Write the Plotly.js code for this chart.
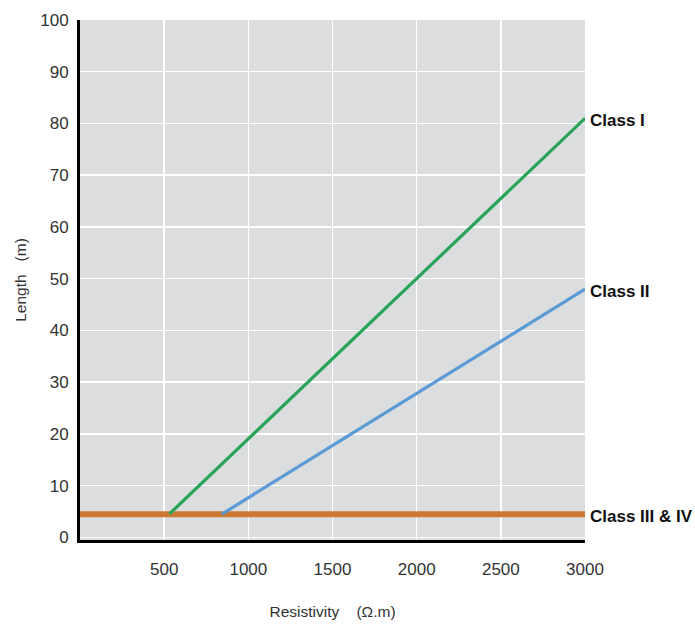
<!DOCTYPE html>
<html>
<head>
<meta charset="utf-8">
<script src="https://cdn.plot.ly/plotly-3.0.1.min.js"></script>
<style>html,body{margin:0;padding:0;background:#fff;}#chart{width:695px;height:626px;}</style>
</head>
<body>
<div id="chart"></div>
<script>
const classIX = [530, 3000];
const classIY = [4.5, 81];
const classIIX = [843, 3000];
const classIIY = [4.5, 48];
const classIIIX = [0, 3000];
const classIIIY = [4.5, 4.5];
const xTicks = [500, 1000, 1500, 2000, 2500, 3000];
const yTicks = [0, 10, 20, 30, 40, 50, 60, 70, 80, 90, 100];
const labels = ["Class I", "Class II", "Class III &amp; IV"];
const labelY = [81, 48, 4.5];

const font = "'Liberation Sans', Arial, sans-serif";

const traces = [
  {x: classIIIX, y: classIIIY, mode: 'lines', line: {color: '#cc7a33', width: 6}},
  {x: classIX, y: classIY, mode: 'lines', line: {color: '#27a457', width: 3.2}},
  {x: classIIX, y: classIIY, mode: 'lines', line: {color: '#5b9bd5', width: 3.2}}
];

const annotations = labels.map((t, i) => ({
  x: 3000, y: labelY[i], xref: 'x', yref: 'y', text: '<b>' + t + '</b>',
  showarrow: false, xanchor: 'left', xshift: 3, yshift: -2,
  font: {family: font, size: 17, color: '#111'}
}));

const layout = {
  width: 695, height: 626,
  margin: {l: 80, r: 110, t: 20, b: 86},
  paper_bgcolor: '#ffffff',
  plot_bgcolor: '#dcdddf',
  showlegend: false,
  xaxis: {
    range: [0, 3000], tickvals: xTicks, ticktext: xTicks.map(String),
    showgrid: true, gridcolor: '#ffffff', gridwidth: 1.5,
    zeroline: false, showline: true, linecolor: '#000', linewidth: 3,
    ticks: 'outside', ticklen: 12, tickcolor: 'rgba(0,0,0,0)',
    tickfont: {family: font, size: 17, color: '#333'},
    title: {text: 'Resistivity&nbsp;&nbsp;&nbsp;&nbsp;(Ω.m)', standoff: 28, font: {family: font, size: 15.5, color: '#333'}},
    fixedrange: true
  },
  yaxis: {
    range: [-0.5, 100], tickvals: yTicks, ticktext: yTicks.map(String),
    showgrid: true, gridcolor: '#ffffff', gridwidth: 1.5,
    zeroline: false, showline: true, linecolor: '#000', linewidth: 3,
    ticks: 'outside', ticklen: 5, tickcolor: 'rgba(0,0,0,0)',
    tickfont: {family: font, size: 17, color: '#333'},
    title: {text: 'Length&nbsp;&nbsp;&nbsp;(m)', standoff: 10, font: {family: font, size: 15.5, color: '#333'}},
    fixedrange: true
  },
  annotations: annotations
};

Plotly.newPlot('chart', traces, layout, {displayModeBar: false, staticPlot: true});
</script>
</body>
</html>
